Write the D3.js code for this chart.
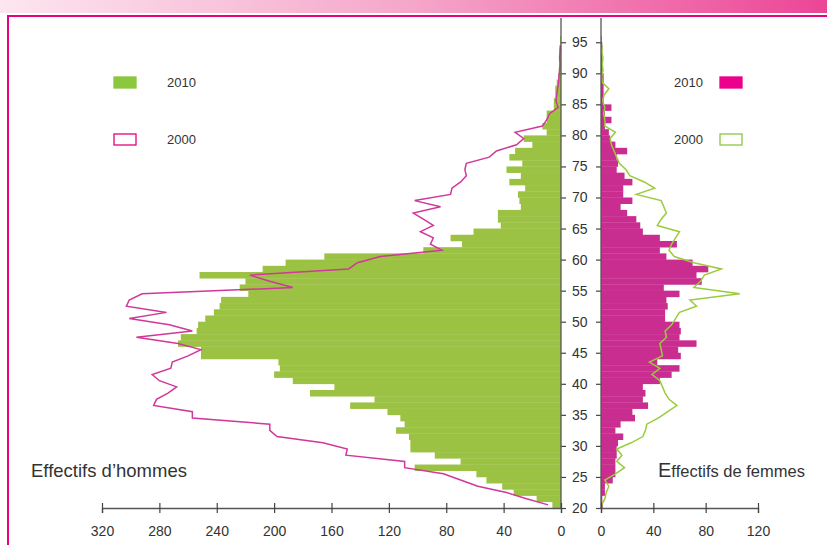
<!DOCTYPE html>
<meta charset="utf-8">
<script src="https://d3js.org/d3.v7.min.js"></script>
<style>

body {
  margin: 0;
  background: #fff;
}

svg text {
  font-family: "Liberation Sans", Arial, sans-serif;
  fill: #333;
}

.tick-label {
  font-size: 14px;
}

.legend-label {
  font-size: 13px;
}

.axis-line {
  stroke: #555;
  stroke-width: 1.3;
}

.bar-men {
  fill: #9cc244;
}

.bar-women {
  fill: #c92d8f;
}

.line-men {
  fill: none;
  stroke: #d0389a;
  stroke-width: 1.5;
}

.line-women {
  fill: none;
  stroke: #9acb3c;
  stroke-width: 1.5;
}

</style>
<body>
<div id="chart"></div>
<script type="text/javascript">

// Ages (one bar per year of age)
var ages = d3.range(20, 96);

// Men, 2010 (bars) - ages 20..95
var men2010 = [6, 17, 33, 41, 52, 59, 102, 70, 88, 105,
               105, 106, 115, 109, 112, 121, 147, 130, 175, 158,
               187, 200, 196, 197, 251, 251, 267, 265, 254, 253,
               248, 242, 238, 237, 218, 224, 220, 252, 208, 192,
               165, 96, 69, 77, 61, 42, 44, 44, 28, 29,
               30, 25, 36, 28, 38, 27, 36, 32, 20, 26,
               10, 13, 10, 10, 5, 5, 4, 4, 3, 2,
               1.5, 1, 1, 1, 0.5, 0.5];

// Men, 2000 (line) - ages 20..94
var men2000 = [9, 24, 38, 58, 70, 82, 109, 109, 150, 149,
               166, 198, 203, 203, 257, 257, 284, 282, 274, 268,
               280, 285, 272, 271, 260, 251, 267, 296, 257, 273,
               301, 275, 303, 301, 292, 187, 203, 217, 148, 142,
               126, 83, 91, 89, 98, 89, 96, 103, 84, 102,
               77, 76, 70, 66, 67, 66, 50, 45, 31, 26,
               32, 13, 10, 8, 2, 3.5, 3, 2.4, 1.7, 1.4,
               1, 0.7, 1, 0.7, 0.5];

// Women, 2010 (bars) - ages 20..95
var women2010 = [1.3, 1, 3, 3, 9, 11, 11, 11, 12, 12,
                 13, 17, 11, 15, 26, 24, 36, 32, 34, 32,
                 45, 54, 60, 43, 61, 59, 73, 60, 61, 60,
                 49, 49, 51, 50, 60, 48, 77, 73, 82, 70,
                 50, 45, 58, 45, 32, 30, 27, 20, 15, 24,
                 17, 17, 24, 18, 12, 13, 12, 20, 11, 7,
                 6, 3, 8, 3, 8, 2, 2, 2, 2, 2,
                 1.3, 1.3, 1, 1, 1, 0.5];

// Women, 2000 (line) - ages 20..94
var women2000 = [0.5, 3, 4, 6, 3, 11, 18, 12, 16, 12,
                 23, 32, 34, 35, 44, 51, 58, 52, 49, 47,
                 45, 39, 45, 37, 47, 46, 45, 50, 49, 54,
                 57, 60, 73, 68, 106, 71, 76, 79, 92, 71,
                 56, 52, 54, 57, 60, 43, 46, 50, 48, 46,
                 27, 41, 33, 22, 19, 14, 12, 10, 8, 7,
                 11, 3, 3, 2, 3, 1.3, 2.3, 6, 1, 0.5,
                 1.5, 1, 1.5, 0.5, 1];

// Tick values
var ageTicks = d3.range(20, 96, 5);
var menTicks = [0, 40, 80, 120, 160, 200, 240, 280, 320];
var womenTicks = [0, 40, 80, 120];

var width = 827,
    height = 545;

var svg = d3.select("#chart").append("svg")
    .attr("width", width)
    .attr("height", height);

// Header gradient band
var defs = svg.append("defs");
var grad = defs.append("linearGradient")
    .attr("id", "headGrad")
    .attr("x1", "0%").attr("x2", "100%");
grad.append("stop").attr("offset", "0%").attr("stop-color", "#fce6f0");
grad.append("stop").attr("offset", "50%").attr("stop-color", "#f5a6c9");
grad.append("stop").attr("offset", "100%").attr("stop-color", "#ec4596");

svg.append("rect")
    .attr("x", 0).attr("y", 0)
    .attr("width", width).attr("height", 13)
    .attr("fill", "url(#headGrad)");

// Frame
svg.append("rect")
    .attr("x", 8).attr("y", 16)
    .attr("width", width + 10).attr("height", height)
    .attr("fill", "none")
    .attr("stroke", "#e8007f")
    .attr("stroke-width", 2);

// Scales
var y = d3.scaleLinear()
    .domain([20, 95])
    .range([508, 42.25]);

var xMen = d3.scaleLinear()
    .domain([0, 320])
    .range([561, 102]);

var xWomen = d3.scaleLinear()
    .domain([0, 120])
    .range([601, 758]);

var men = ages.map(function(a, i) { return {age: a, v: men2010[i]}; });
var women = ages.map(function(a, i) { return {age: a, v: women2010[i]}; });

// Bars, men
svg.selectAll(".bar-men")
    .data(men)
  .enter().append("rect")
    .attr("class", "bar-men")
    .attr("x", function(d) { return xMen(d.v); })
    .attr("y", function(d) { return y(d.age + 1); })
    .attr("width", function(d) { return xMen(0) - xMen(d.v); })
    .attr("height", function(d) { return y(d.age) - y(d.age + 1) + 0.3; });

// Bars, women
svg.selectAll(".bar-women")
    .data(women)
  .enter().append("rect")
    .attr("class", "bar-women")
    .attr("x", xWomen(0))
    .attr("y", function(d) { return y(d.age + 1); })
    .attr("width", function(d) { return xWomen(d.v) - xWomen(0); })
    .attr("height", function(d) { return y(d.age) - y(d.age + 1) + 0.3; });

// 2000 lines, one point per age at the middle of the band
var lineMen = d3.line()
    .x(function(d) { return xMen(d); })
    .y(function(d, i) { return y(20 + i + 0.5); });

var lineWomen = d3.line()
    .x(function(d) { return xWomen(d); })
    .y(function(d, i) { return y(20 + i + 0.5); });

svg.append("path")
    .datum(men2000)
    .attr("class", "line-men")
    .attr("d", lineMen);

svg.append("path")
    .datum(women2000)
    .attr("class", "line-women")
    .attr("d", lineWomen);

// Centre age axes
var ageAxisL = svg.append("g")
    .attr("transform", "translate(" + xMen(0) + ",0)")
    .call(d3.axisRight(y).tickValues(ageTicks).tickSize(5).tickPadding(6));

var ageAxisR = svg.append("g")
    .attr("transform", "translate(" + xWomen(0) + ",0)")
    .call(d3.axisLeft(y).tickValues(ageTicks).tickSize(5).tickFormat(""));

ageAxisR.select(".domain").remove();
ageAxisL.select(".domain").remove();

svg.append("line")
    .attr("class", "axis-line")
    .attr("x1", xMen(0)).attr("x2", xMen(0))
    .attr("y1", 18).attr("y2", 508);

svg.append("line")
    .attr("class", "axis-line")
    .attr("x1", xWomen(0)).attr("x2", xWomen(0))
    .attr("y1", 18).attr("y2", 508);

// Bottom value axes (ticks cross the line)
var menAxis = svg.append("g")
    .attr("transform", "translate(0,508)")
    .call(d3.axisBottom(xMen).tickValues(menTicks).tickSize(5).tickPadding(13));

var womenAxis = svg.append("g")
    .attr("transform", "translate(0,508)")
    .call(d3.axisBottom(xWomen).tickValues(womenTicks).tickSize(5).tickPadding(13));

[menAxis, womenAxis, ageAxisL, ageAxisR].forEach(function(g) {
  g.selectAll(".tick line").attr("stroke", "#444").attr("stroke-width", 1.2);
  g.selectAll(".domain").attr("stroke", "#555").attr("stroke-width", 1.3);
  g.selectAll("text")
    .attr("class", "tick-label")
    .style("font-size", "14px")
    .attr("fill", "#333");
});

menAxis.selectAll(".tick line").attr("y1", -5);
womenAxis.selectAll(".tick line").attr("y1", -5);

// Legends
var legendL = [{label: "2010", fill: "#8dc63f", stroke: "#8dc63f", y: 77},
               {label: "2000", fill: "#fff", stroke: "#e6007e", y: 134}];
var legendR = [{label: "2010", fill: "#ec008c", stroke: "#ec008c", y: 77},
               {label: "2000", fill: "#fff", stroke: "#8dc63f", y: 134}];

legendL.forEach(function(d) {
  svg.append("rect")
    .attr("x", 114).attr("y", d.y)
    .attr("width", 22).attr("height", 11)
    .attr("fill", d.fill)
    .attr("stroke", d.stroke)
    .attr("stroke-width", 1.3);
  svg.append("text")
    .attr("class", "legend-label")
    .attr("x", 167).attr("y", d.y + 10)
    .text(d.label);
});

legendR.forEach(function(d) {
  svg.append("rect")
    .attr("x", 720).attr("y", d.y)
    .attr("width", 22).attr("height", 11)
    .attr("fill", d.fill)
    .attr("stroke", d.stroke)
    .attr("stroke-width", 1.3);
  svg.append("text")
    .attr("class", "legend-label")
    .attr("x", 674).attr("y", d.y + 10)
    .text(d.label);
});

// Side titles
svg.append("text")
    .attr("x", 31).attr("y", 477)
    .style("font-size", "18.5px")
    .text("Effectifs d\u2019hommes");

var fem = svg.append("text")
    .attr("x", 658).attr("y", 477)
    .style("font-size", "16.5px");
fem.append("tspan").style("font-size", "20px").text("E");
fem.append("tspan").text("ffectifs de femmes");

</script>
</body>
</html>
